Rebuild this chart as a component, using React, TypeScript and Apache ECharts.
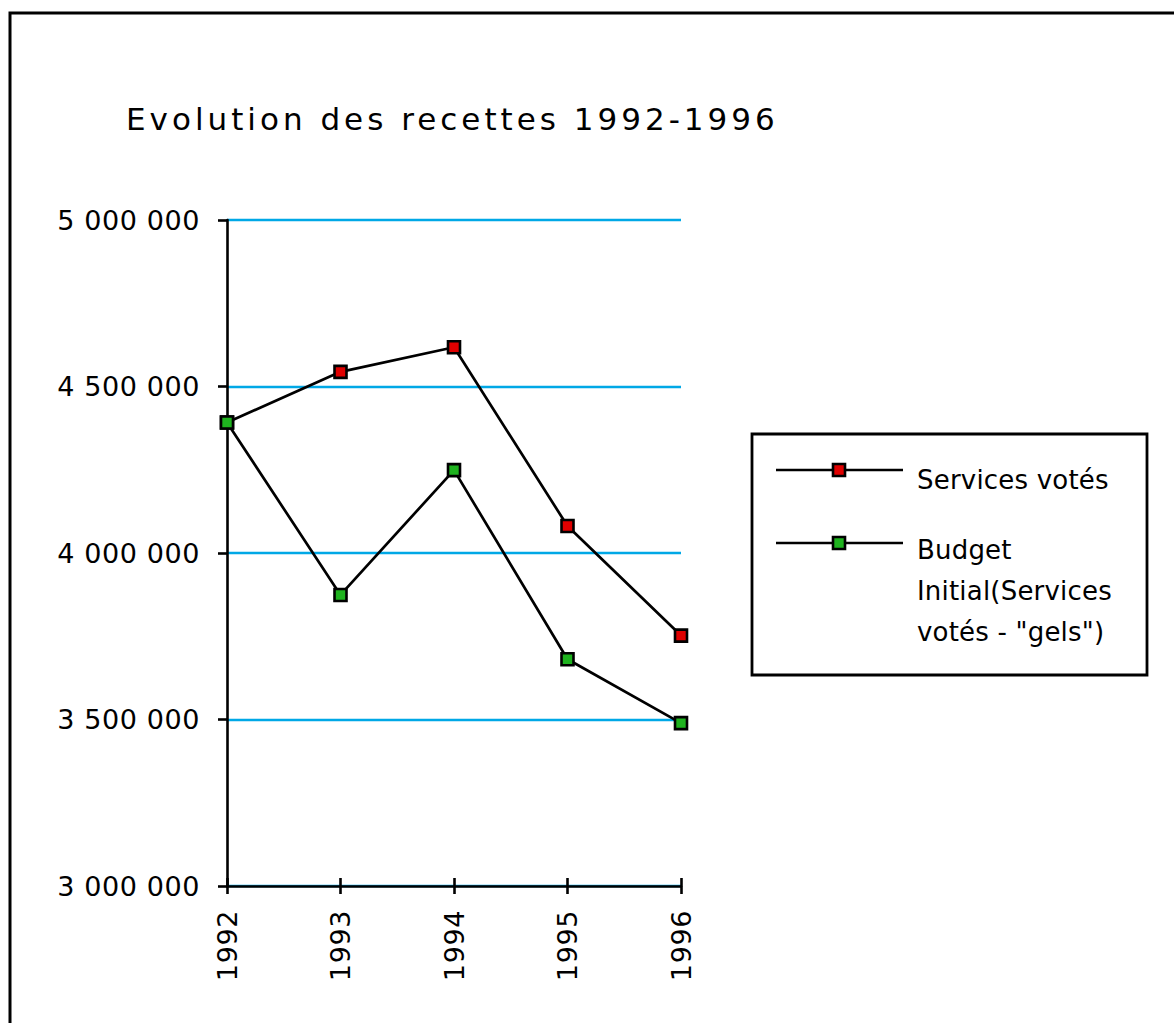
import React, { useEffect, useRef } from "react";
import * as echarts from "echarts";

const years = ["1992", "1993", "1994", "1995", "1996"];
const servicesVotes = [4392000, 4544000, 4618000, 4081000, 3752000];
const budgetInitial = [4392000, 3874000, 4249000, 3681000, 3489000];
const yMin = 3000000;
const yMax = 5000000;
const yStep = 500000;
const titleText = "Evolution des recettes 1992-1996";
const legendLabels = ["Services votés", 'Budget\nInitial(Services\nvotés - "gels")'];
const seriesNames = ["Services votés", 'Budget Initial(Services votés - "gels")'];

const RED = "#e00000";
const GREEN = "#1fb31f";
const GRID_BLUE = "#00a8e6";
const TICK_FONT = "'DejaVu Sans', sans-serif";
const LEGEND_FONT = "'DejaVu Sans', Arial";
const TITLE_FONT = "'DejaVu Sans', Verdana";

function fmt(v: number): string {
  return String(v).replace(/\B(?=(\d{3})+(?!\d))/g, " ");
}

export default function App() {
  const ref = useRef<HTMLDivElement>(null);
  useEffect(() => {
    if (!ref.current) return;
    const chart = echarts.init(ref.current, undefined, { renderer: "svg" });
    const legendItem = (y: number, color: string, textTop: number, label: string) => [
      {
        type: "line",
        shape: { x1: 776, y1: y, x2: 903, y2: y },
        style: { stroke: "#000", lineWidth: 2.6 },
      },
      {
        type: "rect",
        shape: { x: 833, y: y - 6, width: 12, height: 12 },
        style: { fill: color, stroke: "#000", lineWidth: 2.6 },
      },
      {
        type: "text",
        x: 917,
        y: textTop,
        style: {
          text: label,
          fontFamily: LEGEND_FONT,
          fontSize: 26,
          lineHeight: 41,
          fill: "#000",
          verticalAlign: "top",
          align: "left",
        },
      },
    ];
    chart.setOption({
      animation: false,
      backgroundColor: "#fff",
      title: {
        text: titleText,
        left: 126,
        top: 103,
        padding: 0,
        textStyle: {
          fontFamily: TITLE_FONT,
          fontSize: 31,
          fontWeight: "normal",
          color: "#000",
        },
      },
      grid: { left: 227, right: 493, top: 220, bottom: 137, containLabel: false },
      xAxis: [
        {
          type: "category",
          data: years,
          boundaryGap: false,
          axisLine: { show: true, onZero: false, lineStyle: { color: "#000", width: 2.6 } },
          axisTick: { show: true, length: 8, lineStyle: { color: "#000", width: 2.6 } },
          axisLabel: {
            rotate: 90,
            margin: 24,
            fontFamily: TICK_FONT,
            fontSize: 27,
            color: "#000",
          },
          splitLine: { show: false },
        },
        {
          type: "category",
          data: years,
          boundaryGap: false,
          position: "bottom",
          axisLine: { show: false, onZero: false },
          axisTick: { show: true, inside: true, length: 8, lineStyle: { color: "#000", width: 2.6 } },
          axisLabel: { show: false },
          splitLine: { show: false },
        },
      ],
      yAxis: {
        type: "value",
        min: yMin,
        max: yMax,
        interval: yStep,
        axisLine: { show: true, lineStyle: { color: "#000", width: 2.6 } },
        axisTick: { show: true, length: 9, lineStyle: { color: "#000", width: 2.6 } },
        axisLabel: {
          formatter: (v: number) => fmt(v),
          margin: 27,
          fontFamily: TICK_FONT,
          fontSize: 27,
          color: "#000",
        },
        splitLine: { show: true, lineStyle: { color: GRID_BLUE, width: 2.4 } },
      },
      series: [
        {
          name: seriesNames[0],
          type: "line",
          data: servicesVotes,
          symbol: "rect",
          symbolSize: 12,
          itemStyle: { color: RED, borderColor: "#000", borderWidth: 2.6 },
          lineStyle: { color: "#000", width: 2.7 },
          z: 3,
        },
        {
          name: seriesNames[1],
          type: "line",
          data: budgetInitial,
          symbol: "rect",
          symbolSize: 12,
          itemStyle: { color: GREEN, borderColor: "#000", borderWidth: 2.6 },
          lineStyle: { color: "#000", width: 2.7 },
          z: 4,
        },
      ],
      graphic: [
        {
          type: "rect",
          silent: true,
          z: -1,
          shape: { x: 10, y: 13, width: 1300, height: 1200 },
          style: { fill: "none", stroke: "#000", lineWidth: 3 },
        },
        {
          type: "rect",
          silent: true,
          shape: { x: 752, y: 434, width: 395, height: 241 },
          style: { fill: "#fff", stroke: "#000", lineWidth: 2.8 },
        },
        ...legendItem(470, RED, 459, legendLabels[0]),
        ...legendItem(543, GREEN, 529, legendLabels[1]),
      ],
    });
    return () => chart.dispose();
  }, []);
  return (
    <>
      <style>{`
        .chart-host text { letter-spacing: 0.6px; }
        .chart-host text[style*="Arial"] { letter-spacing: 0.2px; }
        .chart-host text[style*="Verdana"] { letter-spacing: 4px; }
      `}</style>
      <div
        ref={ref}
        className="chart-host"
        style={{ position: "absolute", left: 0, top: 0, width: 1174, height: 1023 }}
      />
    </>
  );
}
